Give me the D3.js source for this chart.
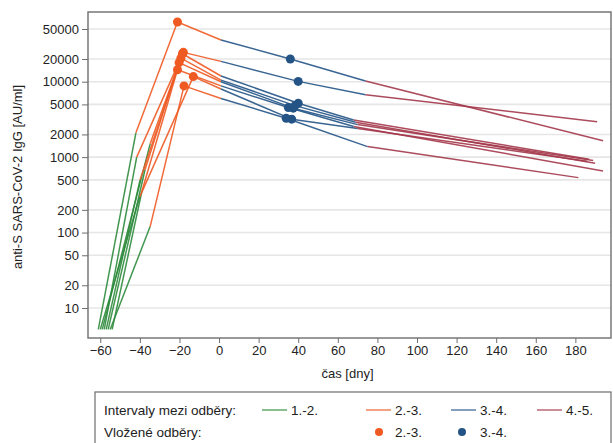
<!DOCTYPE html>
<html><head><meta charset="utf-8">
<script src="https://cdn.jsdelivr.net/npm/d3@7"></script>
<style>body{margin:0;background:#fff;} svg{display:block;font-family:"Liberation Sans",Arial,sans-serif;}</style>
</head><body>
<svg id="c" width="613" height="443"></svg>
<script>
// Sampling days (relative to visit 3) and antibody levels per subject
const subjects = ["A","B","C","D","E","F","G","H"];
const day1 = [-61, -58, -59, -57, -56, -54, -60, -55];
const val1 = [5.2, 5.2, 5.2, 5.2, 5.2, 5.2, 5.2, 5.2];
const day2 = [-42, -41.6, -34.8, -39.9, -37.4, -39, -40, -34.8];
const val2 = [2100, 1000, 1500, 500, 680, 350, 300, 120];
const dayIns23 = [-21, -18, -18.5, -19.3, -20.2, -21, -13, -17.7];
const valIns23 = [62000, 24500, 23500, 20500, 17900, 14400, 11700, 8800];
const day3 = [1, 1, 1, 1, 1, 1, 1, 1];
const val3 = [35800, 18600, 11900, 10500, 10000, 8800, 8000, 6000];
const dayIns34 = [36, 40, 40, 38.4, 37.5, 35, 36.7, 33.9];
const valIns34 = [20000, 10100, 5190, 4820, 4460, 4540, 3190, 3280];
const day4 = [74, 74, 68, 69, 70, 68, 70, 75];
const val4 = [10200, 6700, 3100, 2900, 2700, 2550, 2400, 1380];
const day5 = [194, 191, 187, 190, 189, 194, 186, 181.5];
const val5 = [1650, 2950, 940, 830, 900, 656, 880, 535];

const xTicks = [-60,-40,-20,0,20,40,60,80,100,120,140,160,180];
const yTicks = [10,20,50,100,200,500,1000,2000,5000,10000,20000,50000];
const intervalLabels = ["1.-2.","2.-3.","3.-4.","4.-5."];
const insertedLabels = ["2.-3.","3.-4."];
const colGreen = "#2e8b3c", colOrange = "#ee5a22", colBlue = "#245486", colRed = "#a3374a";

const svg = d3.select("#c");
const L = 88, R = 611, T = 12, B = 338;
const x = d3.scaleLinear().domain([-66.2, 198]).range([L, R]);
const y = d3.scaleLog().domain([4, 84000]).range([B, T]);

// gridlines
svg.append("g").selectAll("line").data(yTicks).join("line")
  .attr("x1", L).attr("x2", R).attr("y1", d => y(d)).attr("y2", d => y(d))
  .attr("stroke", "#e6e6e6").attr("stroke-width", 1.6);

// frame
svg.append("rect").attr("x", L).attr("y", T).attr("width", R - L).attr("height", B - T)
  .attr("fill", "none").attr("stroke", "#6e6e6e").attr("stroke-width", 1.4);

// axes
const xAxis = d3.axisBottom(x).tickValues(xTicks).tickSize(5).tickPadding(3).tickFormat(d3.format("d"));
const gx = svg.append("g").attr("transform", `translate(0,${B})`).call(xAxis);
gx.select(".domain").remove();
gx.selectAll("line").attr("stroke", "#6e6e6e");
gx.selectAll("text").attr("font-size", 13).attr("fill", "#222").attr("font-family", "Liberation Sans, Arial, sans-serif");

const yAxis = d3.axisLeft(y).tickValues(yTicks).tickSize(6).tickPadding(3).tickFormat(d3.format("d"));
const gy = svg.append("g").attr("transform", `translate(${L},0)`).call(yAxis);
gy.select(".domain").remove();
gy.selectAll("line").attr("stroke", "#6e6e6e");
gy.selectAll("text").attr("font-size", 13).attr("fill", "#222").attr("font-family", "Liberation Sans, Arial, sans-serif");

svg.append("text").attr("x", (L + R) / 2 - 2).attr("y", 378).attr("text-anchor", "middle")
  .attr("font-size", 13).attr("fill", "#222").text("čas [dny]");
svg.append("text").attr("transform", `translate(22,${(T + B) / 2 + 2}) rotate(-90)`).attr("text-anchor", "middle")
  .attr("font-size", 13).attr("fill", "#222").text("anti-S SARS-CoV-2 IgG [AU/ml]");

// lines
const line = d3.line().x(d => x(d[0])).y(d => y(d[1]));
const segs = [];
subjects.forEach((s, i) => {
  segs.push({c: colGreen, pts: [[day1[i], val1[i]], [day2[i], val2[i]]]});
});
subjects.forEach((s, i) => {
  segs.push({c: colOrange, pts: [[day2[i], val2[i]], [dayIns23[i], valIns23[i]], [day3[i], val3[i]]]});
});
subjects.forEach((s, i) => {
  segs.push({c: colBlue, pts: [[day3[i], val3[i]], [dayIns34[i], valIns34[i]], [day4[i], val4[i]]]});
});
subjects.forEach((s, i) => {
  segs.push({c: colRed, pts: [[day4[i], val4[i]], [day5[i], val5[i]]]});
});
svg.append("g").selectAll("path").data(segs).join("path")
  .attr("d", d => line(d.pts)).attr("fill", "none").attr("stroke", d => d.c)
  .attr("stroke-width", 1.5).attr("stroke-opacity", 0.9).attr("stroke-linejoin", "round");

// inserted samples
svg.append("g").selectAll("circle").data(subjects.map((s, i) => [dayIns23[i], valIns23[i]])).join("circle")
  .attr("cx", d => x(d[0])).attr("cy", d => y(d[1])).attr("r", 4.5).attr("fill", colOrange);
svg.append("g").selectAll("circle").data(subjects.map((s, i) => [dayIns34[i], valIns34[i]])).join("circle")
  .attr("cx", d => x(d[0])).attr("cy", d => y(d[1])).attr("r", 4.5).attr("fill", colBlue);

// legend
const lg = svg.append("g");
lg.append("rect").attr("x", 95).attr("y", 392).attr("width", 516).attr("height", 60)
  .attr("fill", "#fff").attr("stroke", "#6e6e6e").attr("stroke-width", 1.2);
lg.append("text").attr("x", 104).attr("y", 415).attr("font-size", 13.5).attr("fill", "#222").text("Intervaly mezi odběry:");
lg.append("text").attr("x", 104).attr("y", 437).attr("font-size", 13.5).attr("fill", "#222").text("Vložené odběry:");
const legX = [262, 366, 451, 537];
const legC = [colGreen, colOrange, colBlue, colRed];
intervalLabels.forEach((t, i) => {
  lg.append("line").attr("x1", legX[i]).attr("x2", legX[i] + 25).attr("y1", 410).attr("y2", 410)
    .attr("stroke", legC[i]).attr("stroke-width", 1.5).attr("stroke-opacity", 0.75);
  lg.append("text").attr("x", legX[i] + 29).attr("y", 415).attr("font-size", 13.5).attr("fill", "#222").text(t);
});
const dotX = [379, 462];
const dotC = [colOrange, colBlue];
insertedLabels.forEach((t, i) => {
  lg.append("circle").attr("cx", dotX[i]).attr("cy", 432).attr("r", 4).attr("fill", dotC[i]);
  lg.append("text").attr("x", [395, 480][i]).attr("y", 437).attr("font-size", 13.5).attr("fill", "#222").text(t);
});
</script>
</body></html>
